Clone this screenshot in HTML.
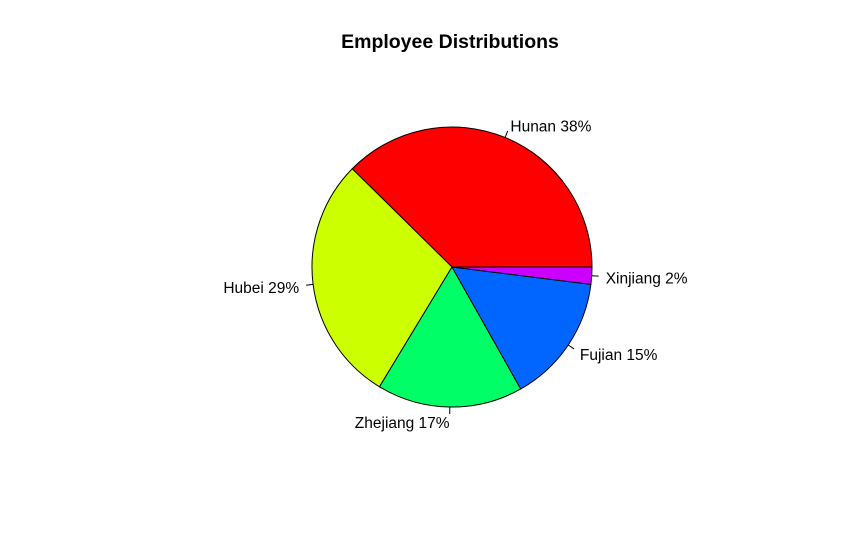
<!DOCTYPE html>
<html>
<head>
<meta charset="utf-8">
<style>
html,body{margin:0;padding:0;background:#fff;}
svg{display:block;font-family:"Liberation Sans",Arial,sans-serif;}
</style>
</head>
<body>
<svg id="chart" width="865" height="554" viewBox="0 0 865 554">
<rect width="865" height="554" fill="#fff"/>
<text x="450" y="48" text-anchor="middle" font-size="19.5" font-weight="bold">Employee Distributions</text>
<g id="slices"></g>
<g id="labels"></g>
</svg>
<script>
const categories = ["Hunan","Hubei","Zhejiang","Fujian","Xinjiang"];
const values = [38,29,17,15,2];
const colors = ["#FF0000","#CCFF00","#00FF66","#0066FF","#CC00FF"];

const NS = "http://www.w3.org/2000/svg";
const cx = 452, cy = 267, r = 140;
const total = values.reduce((a,b)=>a+b,0);
const gS = document.getElementById('slices');
const gL = document.getElementById('labels');
function pt(a, rad){ return [cx + rad*Math.cos(a), cy - rad*Math.sin(a)]; }
let cum = 0;
values.forEach((v,i)=>{
  const a0 = cum/total*2*Math.PI;
  cum += v;
  const a1 = cum/total*2*Math.PI;
  const p0 = pt(a0,r), p1 = pt(a1,r);
  const large = (a1-a0) > Math.PI ? 1 : 0;
  const path = document.createElementNS(NS,'path');
  path.setAttribute('d', `M${cx},${cy} L${p0[0]},${p0[1]} A${r},${r} 0 ${large} 0 ${p1[0]},${p1[1]} Z`);
  path.setAttribute('fill', colors[i]);
  path.setAttribute('stroke', '#000');
  path.setAttribute('stroke-width', '1');
  
  
  gS.appendChild(path);

  const am = (a0+a1)/2;
  const l0 = pt(am, r), l1 = pt(am, r*1.05), lt = pt(am, r*1.1);
  const line = document.createElementNS(NS,'line');
  line.setAttribute('x1', l0[0]); line.setAttribute('y1', l0[1]);
  line.setAttribute('x2', l1[0]); line.setAttribute('y2', l1[1]);
  line.setAttribute('stroke', '#000');
  
  
  gL.appendChild(line);

  const t = document.createElementNS(NS,'text');
  t.setAttribute('x', lt[0]);
  t.setAttribute('y', lt[1] + 7);
  t.setAttribute('font-size', '15.5');
  t.setAttribute('text-anchor', Math.cos(am) >= 0 ? 'start' : 'end');
  t.textContent = categories[i] + ' ' + Math.round(v/total*100) + '%';
  
  
  gL.appendChild(t);
});
</script>
</body>
</html>
